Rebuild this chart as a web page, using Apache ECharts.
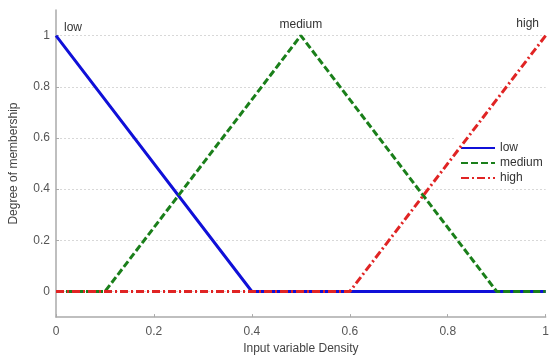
<!DOCTYPE html>
<html><head><meta charset="utf-8">
<script src="https://cdn.jsdelivr.net/npm/echarts@6/dist/echarts.min.js"></script>
<style>html,body{margin:0;padding:0;background:#fff}#c{width:552px;height:360px}</style>
</head><body><div id="c"></div>
<script>
const seriesNames = ['low', 'medium', 'high'];
const lowData = [[0, 1], [0.4, 0], [1, 0]];
const mediumData = [[0, 0], [0.1, 0], [0.5, 1], [0.9, 0], [1, 0]];
const highData = [[0, 0], [0.6, 0], [1, 1]];
const peakIndex = [0, 2, 2];
const yTicks = [0, 0.2, 0.4, 0.6, 0.8, 1];
const xLabel = 'Input variable Density';
const yLabel = 'Degree of membership';

const chart = echarts.init(document.getElementById('c'));
const font = 'Liberation Sans, Arial, sans-serif';
const colors = ['#1010d8', '#1a7f1a', '#e02424'];
const dashTypes = ['solid', [7, 3], [8, 3, 2, 3]];
const labelOffsets = [[17, -8], [0, -11], [-18, -12]];
function mk(i, data) {
  return {
    name: seriesNames[i], type: 'line', data: data, symbol: 'none', z: 2 + i,
    lineStyle: { color: colors[i], width: 3, type: dashTypes[i] },
    itemStyle: { color: colors[i] },
    markPoint: {
      symbol: 'circle', symbolSize: 0, silent: true,
      label: {
        show: true, formatter: seriesNames[i], color: '#333', fontFamily: font, fontSize: 12,
        offset: labelOffsets[i]
      },
      data: [{ coord: data[peakIndex[i]] }]
    },
    animation: false
  };
}
chart.setOption({
  animation: false,
  grid: { left: 54, right: 6, top: 10, bottom: 35 },
  legend: {
    data: seriesNames, orient: 'vertical', left: 455, top: 137, itemGap: 3,
    itemWidth: 34, itemHeight: 10,
    itemStyle: { color: 'transparent', borderWidth: 0, opacity: 0 },
    textStyle: { fontFamily: font, fontSize: 12, color: '#333' },
    backgroundColor: '#fff'
  },
  xAxis: {
    type: 'value', min: 0, max: 1, interval: 0.2,
    name: xLabel, nameLocation: 'middle', nameGap: 21,
    nameTextStyle: { fontFamily: font, fontSize: 12, color: '#444' },
    axisLine: { onZero: false, lineStyle: { color: '#aaa', width: 1.5 } },
    axisTick: { inside: true, length: 3, lineStyle: { color: '#aaa' } },
    axisLabel: { fontFamily: font, fontSize: 12, color: '#555', margin: 9, formatter: v => String(v) },
    splitLine: { show: false }
  },
  yAxis: {
    type: 'value', min: -0.1, max: 1.1,
    name: yLabel, nameLocation: 'middle', nameGap: 36, nameRotate: 90,
    nameTextStyle: { fontFamily: font, fontSize: 12, color: '#444' },
    axisLine: { show: true, lineStyle: { color: '#aaa', width: 1.5 } },
    axisTick: { show: true, inside: true, length: 3, customValues: yTicks, lineStyle: { color: '#aaa' } },
    axisLabel: { fontFamily: font, fontSize: 12, color: '#555', margin: 6, customValues: yTicks, formatter: v => String(v) },
    splitLine: { show: true, lineStyle: { color: '#d8d8d8', type: [2, 2], width: 1 } }
  },
  series: [mk(0, lowData), mk(1, mediumData), mk(2, highData)]
});
</script></body></html>
